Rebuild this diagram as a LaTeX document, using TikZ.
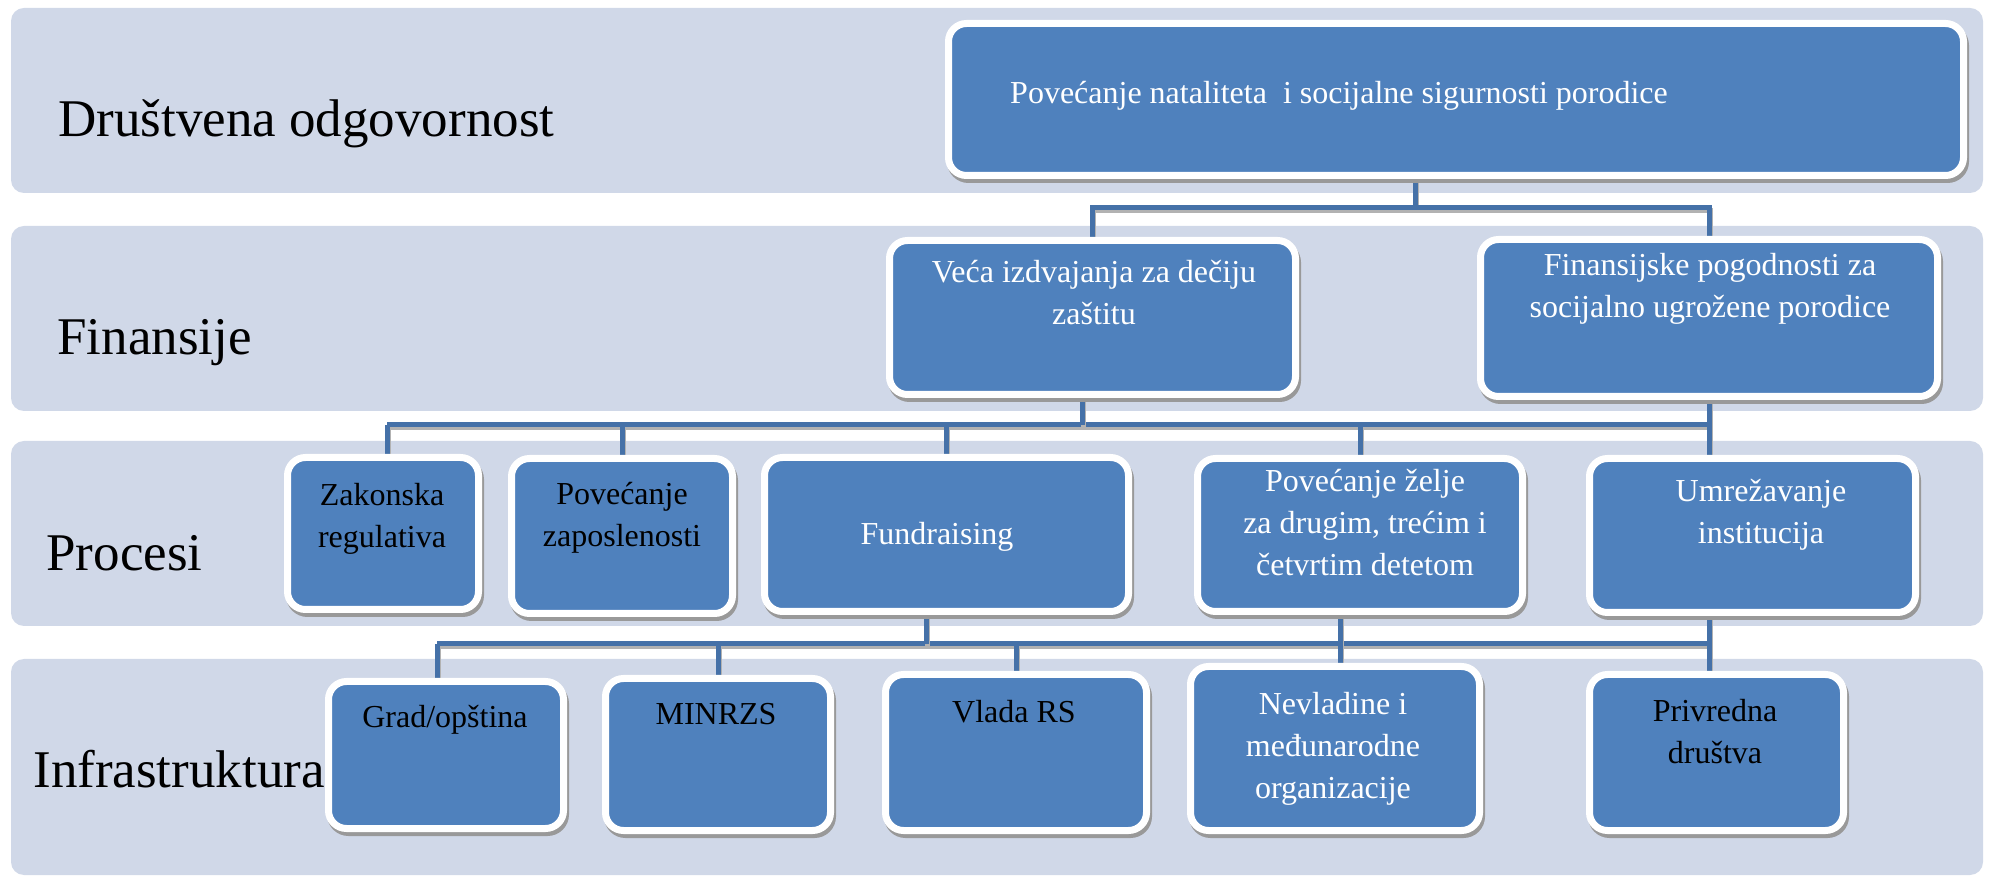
\documentclass[tikz,border=0pt]{standalone}
\usepackage{fontspec}
\setmainfont{Liberation Serif}
\usetikzlibrary{calc}
\definecolor{bandc}{HTML}{D0D8E8}
\definecolor{boxc}{HTML}{4F81BD}
\definecolor{linec}{HTML}{4571A8}
\newcommand{\mlines}[1]{\begin{tabular}[t]{@{}c@{}}#1\end{tabular}}
\pgfdeclarelayer{bg}
\pgfdeclarelayer{lines}
\pgfsetlayers{bg,lines,main}
\tikzset{
  band/.style={fill=bandc, rounded corners=6.5pt},
  box/.style={rectangle, rounded corners=9pt, fill=boxc, draw=white, line width=3.5pt, inner sep=0pt,
    preaction={draw=black!40, fill=black!40, line width=3.5pt, transform canvas={xshift=1pt,yshift=-2pt}}},
  conn/.style={draw=linec, line width=2.5pt,
    preaction={draw=black!30, line width=2.5pt, transform canvas={xshift=0.5pt,yshift=-1.5pt}}},
  wt/.style={text=white, font=\fontsize{16}{20.8}\selectfont, anchor=base, inner sep=0pt},
  bt/.style={wt, text=black},
  lab/.style={font=\fontsize{26.5}{30}\selectfont, anchor=base west, inner sep=0pt, text=black}
}
\begin{document}
\begin{tikzpicture}[x=0.5pt, y=-0.5pt]
\useasboundingbox (0,0) rectangle (1993,876);
\begin{pgfonlayer}{bg}
\fill[white] (0,0) rectangle (1993,876);
\path[band] (11,8) rectangle (1983,193);
\path[band] (11,226) rectangle (1983,411);
\path[band] (11,441) rectangle (1983,626);
\path[band] (11,659) rectangle (1983,875);
\end{pgfonlayer}

% row labels
\node[lab] (l1) at (58,137) {Društvena odgovornost};
\node[lab] (l2) at (57,355) {Finansije};
\node[lab] (l3) at (46,571) {Procesi};
\node[lab] (l4) at (33,788) {Infrastruktura};

% boxes
\node[box, minimum width=507.5pt, minimum height=76pt] (top) at (1456,99.5) {};
\node[box, minimum width=203pt, minimum height=77pt] (veca) at (1092.5,317.5) {};
\node[box, minimum width=228.5pt, minimum height=78.5pt] (fin) at (1709,318) {};
\node[box, minimum width=95.5pt, minimum height=76pt] (zak) at (383,533.5) {};
\node[box, minimum width=110.5pt, minimum height=77.5pt] (povz) at (622,536) {};
\node[box, minimum width=182pt, minimum height=77pt] (fund) at (946.5,534.5) {};
\node[box, minimum width=162.5pt, minimum height=76.5pt] (zelje) at (1360,535) {};
\node[box, minimum width=163pt, minimum height=77pt] (umr) at (1752.5,535.5) {};
\node[box, minimum width=117.5pt, minimum height=73.5pt] (grad) at (446,755) {};
\node[box, minimum width=112.5pt, minimum height=76pt] (minr) at (718,754.5) {};
\node[box, minimum width=130.5pt, minimum height=78pt] (vlada) at (1016,752.5) {};
\node[box, minimum width=144.5pt, minimum height=82pt] (nev) at (1335,748.5) {};
\node[box, minimum width=127pt, minimum height=78pt] (priv) at (1716.5,752.5) {};

% box texts
\node[wt] (topT) at (1339,104) {Povećanje nataliteta~ i socijalne sigurnosti porodice};
\node[wt] (vecaT) at (1094,283) {\mlines{Veća izdvajanja za dečiju\\zaštitu}};
\node[wt] (finT) at (1710,276) {\mlines{Finansijske pogodnosti za\\socijalno ugrožene porodice}};
\node[bt] (zakT) at (382,506) {\mlines{Zakonska\\regulativa}};
\node[bt] (povzT) at (622,505) {\mlines{Povećanje\\zaposlenosti}};
\node[wt] (fundT) at (937,545) {Fundraising};
\node[wt] (zeljeT) at (1365,492) {\mlines{Povećanje želje\\za drugim, trećim i\\četvrtim detetom}};
\node[wt] (umrT) at (1761,502) {\mlines{Umrežavanje\\institucija}};
\node[bt] (gradT) at (445,728) {Grad/opština};
\node[bt] (minrT) at (716,725) {MINRZS};
\node[bt] (vladaT) at (1014,723) {Vlada RS};
\node[wt] (nevT) at (1333,715) {\mlines{Nevladine i\\međunarodne\\organizacije}};
\node[bt] (privT) at (1715,722) {\mlines{Privredna\\društva}};

% connectors
\coordinate (j1) at (1415,208);
\coordinate (j2) at (1082,425);
\coordinate (j3) at (926,644);
\begin{pgfonlayer}{lines}
% level 1
\draw[conn] (top.south -| j1) -- (j1);
\draw[conn] (veca.north) |- (j1) -| (fin.north);
% level 2
\coordinate (k2) at ($(zak.north)+(4,0)$);
\draw[conn] (k2 |- j2) -- (fin.south |- j2);
\draw[conn] (veca.south -| j2) -- (j2);
\draw[conn] (fin.south) -- (fin.south |- umr.north);
\draw[conn] (k2) -- (k2 |- j2);
\draw[conn] (povz.north) -- (povz.north |- j2);
\draw[conn] (fund.north) -- (fund.north |- j2);
\draw[conn] (zelje.north) -- (zelje.north |- j2);
% level 3
\coordinate (g3) at ($(grad.north)+(-9,0)$);
\coordinate (z3) at ($(zelje.south)+(-20,0)$);
\draw[conn] (g3 |- j3) -- (fin.south |- j3);
\draw[conn] (fund.south -| j3) -- (j3);
\draw[conn] (z3) -- (z3 |- nev.north);
\draw[conn] (fin.south |- umr.south) -- (fin.south |- priv.north);
\draw[conn] (g3) -- (g3 |- j3);
\draw[conn] (minr.north) -- (minr.north |- j3);
\draw[conn] (vlada.north) -- (vlada.north |- j3);
\end{pgfonlayer}
\end{tikzpicture}
\end{document}
